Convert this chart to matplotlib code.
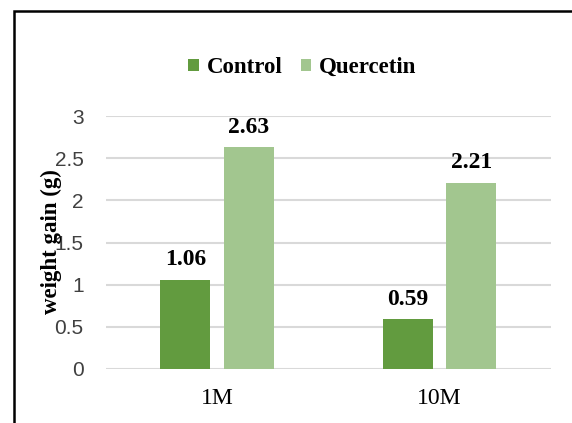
import matplotlib
matplotlib.use("Agg")
import matplotlib.pyplot as plt
import numpy as np
from matplotlib.patches import Rectangle

# data
categories = ["1M", "10M"]
control = [1.06, 0.59]
quercetin = [2.63, 2.21]
yticks = [0, 0.5, 1, 1.5, 2, 2.5, 3]
ytick_labels = ["0", "0.5", "1", "1.5", "2", "2.5", "3"]

green_dark = "#629B3F"
green_light = "#A2C68F"
serif = "Liberation Serif"
sans = "Liberation Sans"

fig = plt.figure(figsize=(5.72, 4.23), dpi=100)
ax = fig.add_axes([0.185, 0.1277, 0.778, 0.598])

x = np.arange(len(categories))
w = 0.224
off = 0.143
b1 = ax.bar(x - off, control, w, color=green_dark, label="Control", zorder=3)
b2 = ax.bar(x + off, quercetin, w, color=green_light, label="Quercetin", zorder=3)

# value labels above the bars
for bars, vals in ((b1, control), (b2, quercetin)):
    for r, v in zip(bars, vals):
        ax.annotate(f"{v:.2f}", (r.get_x() + r.get_width() / 2, v),
                    xytext=(0, 7), textcoords="offset points",
                    ha="center", va="bottom", fontsize=17,
                    fontweight="bold", family=serif)

ax.set_xlim(-0.5, 1.5)
ax.set_ylim(0, 3)
ax.set_yticks(yticks)
ax.set_yticklabels(ytick_labels, family=sans, fontsize=15, color="#404040")
ax.set_xticks(x)
ax.set_xticklabels(categories, family=serif, fontsize=17)
ax.tick_params(length=0)
ax.tick_params(axis="y", pad=16)
ax.tick_params(axis="x", pad=14)
ax.grid(axis="y", color="#D9D9D9", linewidth=1.5, zorder=0)
for s in ax.spines.values():
    s.set_visible(False)

# y label sits over the tick labels, as in the reference
fig.text(0.09, 0.428, "weight gain (g)", rotation=90, ha="center", va="center",
         family=serif, fontweight="bold", fontsize=16.5)

fig.legend(handles=[b1, b2], loc="center", bbox_to_anchor=(0.529, 0.84), ncol=2,
           frameon=False, prop={"family": serif, "weight": "bold", "size": 16.5},
           handlelength=0.45, handleheight=0.45, handletextpad=0.35, columnspacing=0.8)

# outer chart border (cut off at right and bottom in the reference)
fig.patches.append(Rectangle((14 / 572, -0.1), 1.2, 1 - 11 / 423 + 0.1,
                             transform=fig.transFigure, fill=False,
                             edgecolor="black", linewidth=1.8))

fig.savefig("out.png", dpi=100)
